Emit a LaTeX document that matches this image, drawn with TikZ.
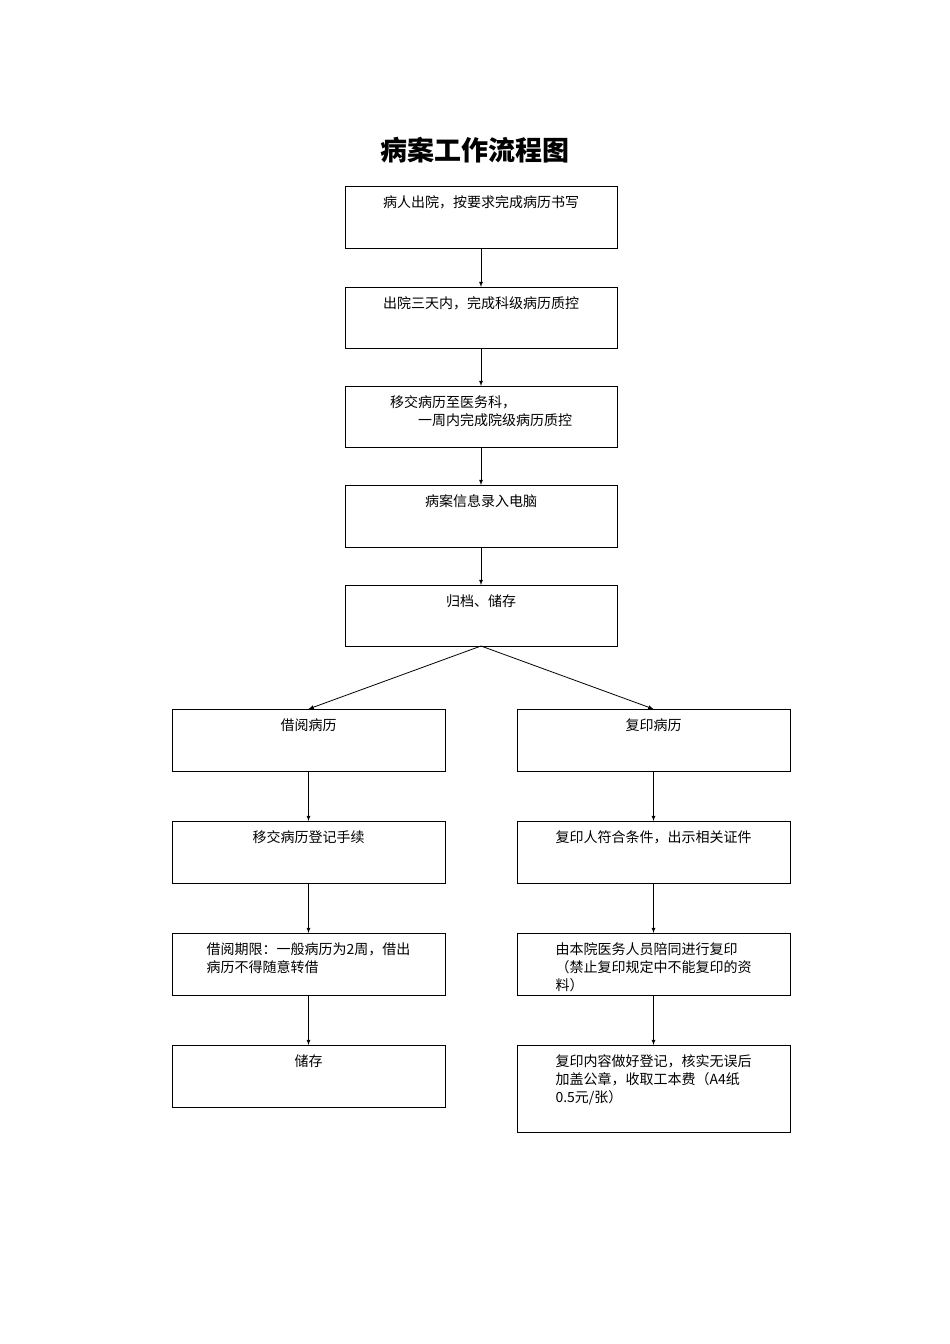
\documentclass[tikz,border=0pt]{standalone}
\usepackage{fontspec}
\newfontfamily\cjk{Noto Sans CJK SC}
\begin{document}
\begin{tikzpicture}[x=1pt,y=-1pt,
 box/.style={draw,line width=0.8pt},
 lbl/.style={anchor=north,font=\cjk\fontsize{14}{18}\selectfont,align=left},
 arr/.style={-latex,line width=0.8pt}]
\useasboundingbox (0,0) rectangle (950,1344);
\node[font=\cjk\bfseries\fontsize{27}{30}\selectfont] (title) at (475,150) {病案工作流程图};
\newcommand\bx[6]{\draw[box] (#2,#3) rectangle (#4,#5); \coordinate (#1t) at ({(#2+#4)/2},#3); \coordinate (#1b) at ({(#2+#4)/2},#5);
 \node[lbl] (#1) at ({(#2+#4)/2},{#3+6}) {#6};}
\bx{a}{345}{186}{617}{248}{病人出院，按要求完成病历书写}
\bx{b}{345}{287}{617}{348}{出院三天内，完成科级病历质控}
\bx{c}{345}{386}{617}{447}{移交病历至医务科，\\\hspace*{2em}一周内完成院级病历质控}
\bx{d}{345}{485}{617}{547}{病案信息录入电脑}
\bx{e}{345}{585}{617}{646}{归档、储存}
\bx{l1}{172}{709}{445}{771}{借阅病历}
\bx{l2}{172}{821}{445}{883}{移交病历登记手续}
\bx{l3}{172}{933}{445}{995}{借阅期限：一般病历为2周，借出\\病历不得随意转借}
\bx{l4}{172}{1045}{445}{1107}{储存}
\bx{r1}{517}{709}{790}{771}{复印病历}
\bx{r2}{517}{821}{790}{883}{复印人符合条件，出示相关证件}
\bx{r3}{517}{933}{790}{995}{由本院医务人员陪同进行复印\\（禁止复印规定中不能复印的资\\料）}
\bx{r4}{517}{1045}{790}{1132}{复印内容做好登记，核实无误后\\加盖公章，收取工本费（A4纸\\0.5元/张）}
\draw[arr] (ab) -- (bt);
\draw[arr] (bb) -- (ct);
\draw[arr] (cb) -- (dt);
\draw[arr] (db) -- (et);
\draw[arr] (eb) -- (l1t);
\draw[arr] (eb) -- (r1t);
\draw[arr] (l1b) -- (l2t);
\draw[arr] (l2b) -- (l3t);
\draw[arr] (l3b) -- (l4t);
\draw[arr] (r1b) -- (r2t);
\draw[arr] (r2b) -- (r3t);
\draw[arr] (r3b) -- (r4t);
\end{tikzpicture}
\end{document}
